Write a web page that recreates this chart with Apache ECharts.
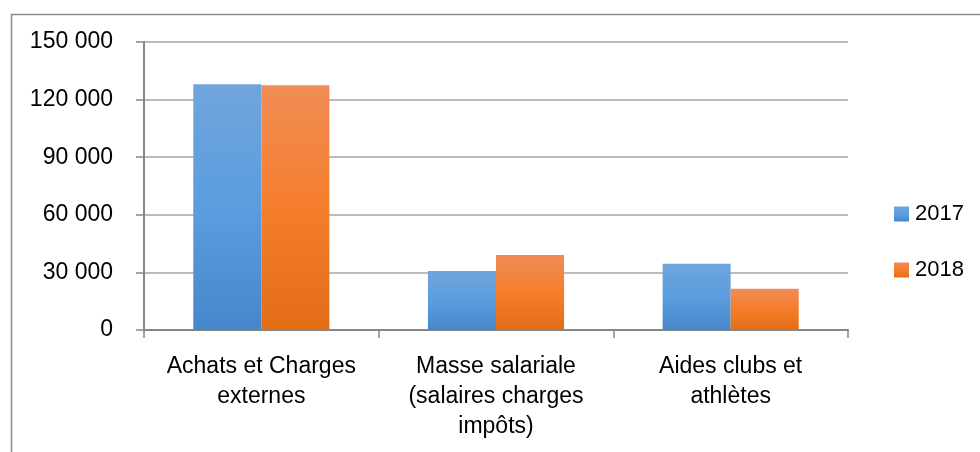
<!DOCTYPE html>
<html style="height: 100%">
<head>
<meta charset="UTF-8">
<title>Charges 2017 / 2018</title>
<script src="https://cdn.jsdelivr.net/npm/echarts@6/dist/echarts.min.js"></script>
</head>
<body style="height: 100%; margin: 0; background: #fff">
<div id="container" style="width: 980px; height: 452px"></div>
<script type="text/javascript">
var categories = ['Achats et Charges\nexternes', 'Masse salariale\n(salaires charges\nimpôts)', 'Aides clubs et\nathlètes'];
var years = ['2017', '2018'];
var values2017 = [128000, 30700, 34500];
var values2018 = [127500, 39000, 21500];

var font = '"Liberation Sans", Arial, sans-serif';

function fmt(v) {
	return String(v).replace(/\B(?=(\d{3})+(?!\d))/g, ' ');
}

var dom = document.getElementById('container');
var myChart = echarts.init(dom);
var option = {
	animation: false,
	graphic: [{
		type: 'rect',
		left: 9,
		top: 12,
		shape: { width: 1000, height: 500 },
		style: { fill: 'none', stroke: '#8c8c8c', lineWidth: 1.5 },
		silent: true
	}],
	grid: {
		left: 144,
		right: 132,
		top: 42,
		bottom: 122
	},
	legend: {
		orient: 'vertical',
		left: 889,
		top: 198,
		itemWidth: 15,
		itemHeight: 15,
		itemGap: 34,
		icon: 'rect',
		textStyle: { fontFamily: font, fontSize: 22, color: '#000', padding: [0, 0, 0, 1] },
		data: years
	},
	xAxis: {
		type: 'category',
		data: categories,
		axisLine: { lineStyle: { color: '#868686', width: 2 } },
		axisTick: { show: true, length: 8, lineStyle: { color: '#868686', width: 1.5 } },
		axisLabel: {
			fontFamily: font,
			fontSize: 23,
			color: '#000',
			lineHeight: 30,
			margin: 22,
			interval: 0
		}
	},
	yAxis: {
		type: 'value',
		min: 0,
		max: 150000,
		interval: 30000,
		axisLine: { show: true, lineStyle: { color: '#868686', width: 2 } },
		axisTick: { show: true, length: 8, lineStyle: { color: '#868686', width: 1.5 } },
		splitLine: { lineStyle: { color: '#a6a6a6', width: 1.5 } },
		axisLabel: {
			fontFamily: font,
			fontSize: 23,
			color: '#000',
			margin: 31,
			formatter: fmt
		}
	},
	series: [
		{
			name: '2017',
			type: 'bar',
			data: values2017,
			barGap: '0%',
			barCategoryGap: '42%',
			itemStyle: {
				color: new echarts.graphic.LinearGradient(0, 0, 0, 1, [
					{ offset: 0, color: '#70a5dc' },
					{ offset: 0.5, color: '#5b9ddf' },
					{ offset: 1, color: '#4587ca' }
				])
			}
		},
		{
			name: '2018',
			type: 'bar',
			data: values2018,
			itemStyle: {
				color: new echarts.graphic.LinearGradient(0, 0, 0, 1, [
					{ offset: 0, color: '#f08c56' },
					{ offset: 0.5, color: '#f57e2c' },
					{ offset: 1, color: '#e36c17' }
				])
			}
		}
	]
};
myChart.setOption(option);
</script>
</body>
</html>
